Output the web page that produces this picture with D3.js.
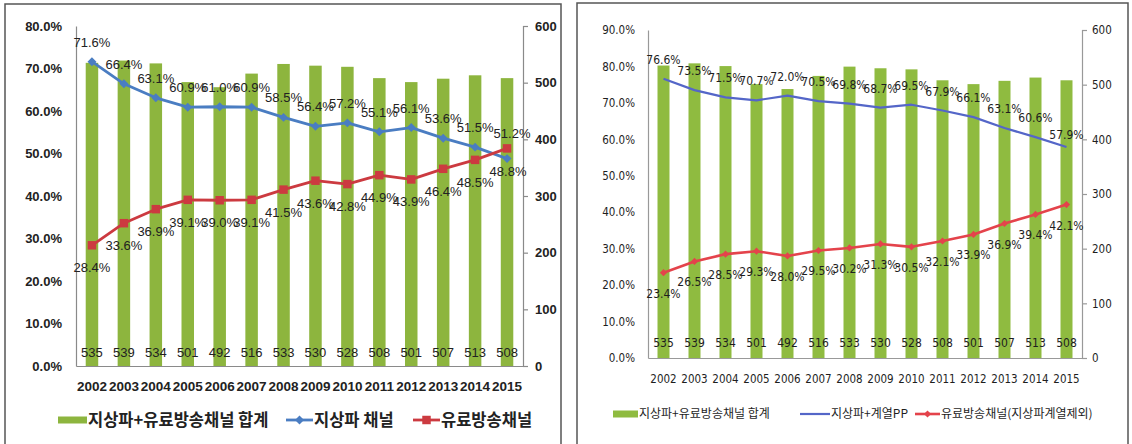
<!DOCTYPE html>
<html>
<head>
<meta charset="utf-8">
<script src="https://cdn.jsdelivr.net/npm/d3@7"></script>
<style>
  body { margin: 0; background: #fff; }
  svg text { font-family: "Liberation Sans", "Noto Sans CJK KR", sans-serif; }
</style>
</head>
<body>
<div id="chart"></div>
<script>
// years on the x axis (both panels)
var years = ["2002","2003","2004","2005","2006","2007","2008","2009","2010","2011","2012","2013","2014","2015"];
// total channels (bars, right axis)
var totalChannels = [535, 539, 534, 501, 492, 516, 533, 530, 528, 508, 501, 507, 513, 508];
// left panel shares (%)
var terrShare = [71.6, 66.4, 63.1, 60.9, 61.0, 60.9, 58.5, 56.4, 57.2, 55.1, 56.1, 53.6, 51.5, 48.8];
var paidShare = [28.4, 33.6, 36.9, 39.1, 39.0, 39.1, 41.5, 43.6, 42.8, 44.9, 43.9, 46.4, 48.5, 51.2];
// right panel shares (%)
var terrPPShare = [76.6, 73.5, 71.5, 70.7, 72.0, 70.5, 69.8, 68.7, 69.5, 67.9, 66.1, 63.1, 60.6, 57.9];
var paidExclShare = [23.4, 26.5, 28.5, 29.3, 28.0, 29.5, 30.2, 31.3, 30.5, 32.1, 33.9, 36.9, 39.4, 42.1];
// axis ticks
var pctTicksA = [0, 10, 20, 30, 40, 50, 60, 70, 80];
var pctTicksB = [0, 10, 20, 30, 40, 50, 60, 70, 80, 90];
var countTicks = [0, 100, 200, 300, 400, 500, 600];
// legend texts
var legendA = ["지상파+유료방송채널  합계", "지상파 채널", "유료방송채널"];
var legendB = ["지상파+유료방송채널 합계", "지상파+계열PP", "유료방송채널(지상파계열제외)"];

var svg = d3.select("#chart").append("svg")
    .attr("width", 1132)
    .attr("height", 444);

// panel frames
svg.append("rect").attr("x", 5).attr("y", 4).attr("width", 556).attr("height", 460)
    .attr("fill", "none").attr("stroke", "#555").attr("stroke-width", 1.5);
svg.append("rect").attr("x", 577).attr("y", 3).attr("width", 551).attr("height", 460)
    .attr("fill", "none").attr("stroke", "#555").attr("stroke-width", 1.5);

function marker(size) {
  return d3.symbol().type(d3.symbolSquare).size(size);
}

function drawChart(o) {
  var g = svg.append("g");

  var x = d3.scaleBand().domain(years).range([o.x0, o.x1]);
  var yL = d3.scaleLinear().domain([0, o.pctMax]).range([o.yBottom, o.yTop]);
  var yR = d3.scaleLinear().domain([0, 600]).range([o.yBottom, o.yTop]);
  var cx = function(i) { return x(years[i]) + x.bandwidth() / 2; };

  // bars
  g.selectAll(".bar")
    .data(totalChannels)
    .enter()
    .append("rect")
    .attr("x", function(d, i) { return cx(i) - o.barW / 2; })
    .attr("width", o.barW)
    .attr("y", function(d) { return yR(d); })
    .attr("height", function(d) { return o.yBottom - yR(d); })
    .attr("fill", o.barColor);

  // bar value labels
  g.selectAll(".barlab")
    .data(totalChannels)
    .enter()
    .append("text")
    .attr("x", function(d, i) { return cx(i); })
    .attr("y", o.barLabelY)
    .attr("text-anchor", "middle")
    .style("font-size", o.labelSize + "px")
    .style("font-family", o.font)
    .attr("fill", o.textColor)
    .text(function(d) { return d; });

  // axes
  var axL = g.append("g")
    .attr("transform", "translate(" + o.x0 + ",0)")
    .call(d3.axisLeft(yL).tickValues(o.pctTicks).tickSize(0).tickPadding(o.x0 - o.leftLabelX)
      .tickFormat(function(d) { return d.toFixed(1) + "%"; }));
  var axR = g.append("g")
    .attr("transform", "translate(" + o.x1 + ",0)")
    .call(d3.axisRight(yR).tickValues(countTicks).tickSize(5).tickPadding(o.rightLabelX - o.x1 - 5));
  var axB = g.append("g")
    .attr("transform", "translate(0," + o.yBottom + ")")
    .call(d3.axisBottom(x).tickSize(0).tickPadding(o.yearPad));

  [axL, axR, axB].forEach(function(a) {
    a.selectAll("path, line").attr("stroke", o.axisColor).attr("stroke-width", 1.2);
    a.selectAll("text")
      .style("font-size", o.tickSize + "px")
      .style("font-weight", o.tickWeight)
      .style("font-family", o.font)
      .attr("fill", o.textColor);
  });
  axB.selectAll("text").style("font-size", o.yearSize + "px");

  // lines
  var series = [
    {vals: o.blue, color: o.blueColor, width: o.blueW, marker: o.blueMarker, above: true},
    {vals: o.red, color: o.redColor, width: o.redW, marker: o.redMarker, above: false}
  ];
  series.forEach(function(s) {
    var line = d3.line()
      .x(function(d, i) { return cx(i); })
      .y(function(d) { return yL(d); });
    g.append("path")
      .datum(s.vals)
      .attr("fill", "none")
      .attr("stroke", s.color)
      .attr("stroke-width", s.width)
      .attr("stroke-linejoin", "round")
      .attr("d", line);

    if (s.marker) {
      g.selectAll(null)
        .data(s.vals)
        .enter()
        .append("path")
        .attr("d", marker(s.marker.size))
        .attr("fill", s.color)
        .attr("transform", function(d, i) {
          return "translate(" + cx(i) + "," + yL(d) + ")" + (s.marker.rotate ? " rotate(45)" : "");
        });
    }
  });

  // data labels
  series.forEach(function(s, k) {
    var last = s.vals.length - 1;
    g.selectAll(null)
      .data(s.vals)
      .enter()
      .append("text")
      .attr("x", function(d, i) { return cx(i) + (i === last ? o.lastDx[k] : 0); })
      .attr("y", function(d, i) {
        var dy = s.above ? o.aboveDy : o.belowDy;
        if (i === last) dy = o.lastDy[k];
        return yL(d) + dy;
      })
      .attr("text-anchor", "middle")
      .style("font-size", o.labelSize + "px")
      .style("font-family", o.font)
      .attr("fill", o.textColor)
      .text(function(d) { return d.toFixed(1) + "%"; });
  });

  // legend
  var lg = g.append("g");
  lg.append("rect")
    .attr("x", o.legX[0]).attr("y", o.legY - 3.5)
    .attr("width", o.legX[1] - o.legX[0]).attr("height", 7)
    .attr("fill", o.barColor);
  lg.append("text").attr("x", o.legX[1] + 1).attr("y", o.legY)
    .attr("dy", "0.36em")
    .style("font-size", o.legSize + "px").style("font-weight", o.legWeight)
    .style("font-family", "'Noto Sans CJK KR', sans-serif")
    .attr("fill", o.textColor).text(o.legend[0]);

  [[o.legX[2], o.legX[3], series[0]], [o.legX[4], o.legX[5], series[1]]].forEach(function(l, k) {
    lg.append("line")
      .attr("x1", l[0]).attr("x2", l[1]).attr("y1", o.legY).attr("y2", o.legY)
      .attr("stroke", l[2].color).attr("stroke-width", l[2].width);
    if (l[2].marker) {
      lg.append("path")
        .attr("d", marker(l[2].marker.size))
        .attr("fill", l[2].color)
        .attr("transform", "translate(" + ((l[0] + l[1]) / 2) + "," + o.legY + ")" + (l[2].marker.rotate ? " rotate(45)" : ""));
    }
    lg.append("text").attr("x", l[1] + 1).attr("y", o.legY)
      .attr("dy", "0.36em")
      .style("font-size", o.legSize + "px").style("font-weight", o.legWeight)
      .style("font-family", "'Noto Sans CJK KR', sans-serif")
      .attr("fill", o.textColor).text(o.legend[k + 1]);
  });
}

// left panel
drawChart({
  x0: 76, x1: 523, yTop: 26, yBottom: 366, pctMax: 80, pctTicks: pctTicksA,
  leftLabelX: 62, rightLabelX: 535, yearPad: 15,
  barW: 12.5, barColor: "#8db53e", barLabelY: 357,
  blue: terrShare, red: paidShare,
  blueColor: "#4a7dc2", redColor: "#cc3a40", blueW: 2.8, redW: 2.8,
  blueMarker: {size: 40, rotate: true}, redMarker: {size: 72, rotate: false},
  aboveDy: -15, belowDy: 27, lastDy: [17, -10], lastDx: [1, 5],
  font: "'Liberation Sans', sans-serif", tickSize: 13, tickWeight: "bold", yearSize: 13.5,
  labelSize: 13, textColor: "#222", axisColor: "#8a8a8a",
  legend: legendA, legX: [58, 87, 286, 313, 413, 440], legY: 420, legSize: 16.5, legWeight: "bold"
});

// right panel
drawChart({
  x0: 648, x1: 1082, yTop: 30, yBottom: 358, pctMax: 90, pctTicks: pctTicksB,
  leftLabelX: 635, rightLabelX: 1092, yearPad: 17,
  barW: 12, barColor: "#8fbb40", barLabelY: 347,
  blue: terrPPShare, red: paidExclShare,
  blueColor: "#5466c8", redColor: "#e4434b", blueW: 2.2, redW: 2.6,
  blueMarker: null, redMarker: {size: 26, rotate: true},
  aboveDy: -15, belowDy: 25, lastDy: [-8, 25], lastDx: [0, 0],
  font: "'Liberation Sans Narrow', 'DejaVu Sans Condensed', sans-serif", tickSize: 11.5, tickWeight: "normal", yearSize: 11.5,
  labelSize: 12, textColor: "#1e1e1e", axisColor: "#999",
  legend: legendB, legX: [613, 638, 800, 830, 915, 940], legY: 414, legSize: 12, legWeight: "normal"
});
</script>
</body>
</html>
